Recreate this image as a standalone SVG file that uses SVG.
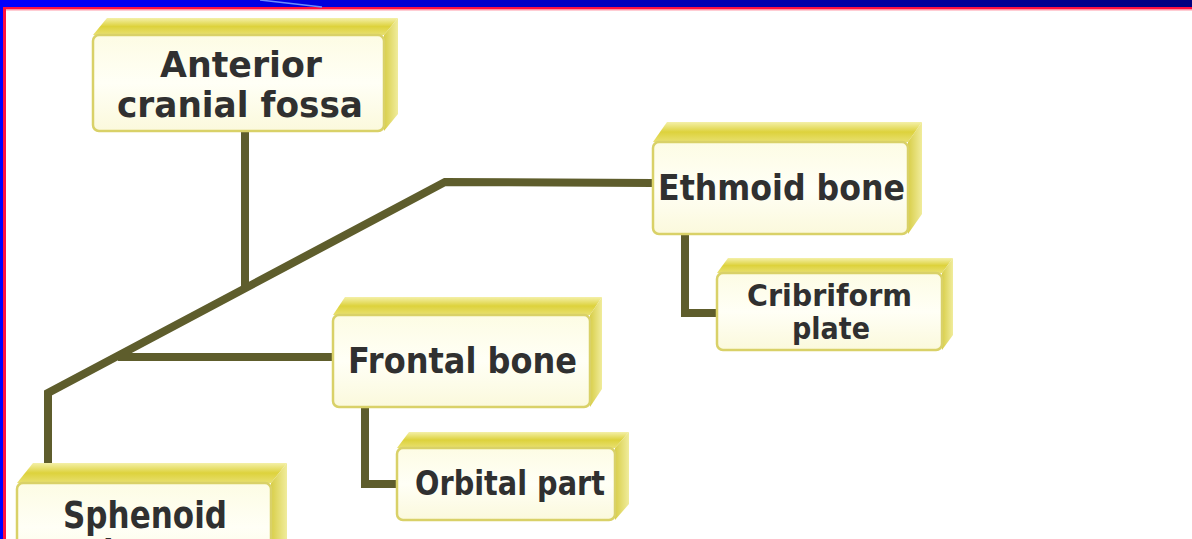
<svg xmlns="http://www.w3.org/2000/svg" width="1192" height="539" viewBox="0 0 1192 539">
<defs>
<linearGradient id="bar" x1="0" y1="0" x2="1" y2="0">
<stop offset="0" stop-color="#0000ff"/>
<stop offset="1" stop-color="#000080"/>
</linearGradient>
<linearGradient id="topf" x1="0" y1="0" x2="0" y2="1">
<stop offset="0" stop-color="#f4f0a8"/>
<stop offset="0.5" stop-color="#ddd23c"/>
<stop offset="1" stop-color="#e8e070"/>
</linearGradient>
<linearGradient id="sidef" x1="0" y1="0" x2="1" y2="0">
<stop offset="0" stop-color="#d8ce48"/>
<stop offset="1" stop-color="#f0ec9c"/>
</linearGradient>
<linearGradient id="front" x1="0" y1="0" x2="0" y2="1">
<stop offset="0" stop-color="#fdfce4"/>
<stop offset="0.5" stop-color="#fffff6"/>
<stop offset="1" stop-color="#fbf9dc"/>
</linearGradient>
<style>
.top{fill:url(#topf);}
.side{fill:url(#sidef);}
.face{fill:url(#front);stroke:#d9d168;stroke-width:2.5;}
.lbl{font-family:"DejaVu Sans","Verdana",sans-serif;font-weight:bold;fill:#303030;}
.con{fill:none;stroke:#5e5d2c;stroke-width:8;stroke-linejoin:miter;stroke-linecap:butt;}
</style>
</defs>
<rect width="1192" height="539" fill="#ffffff"/>
<g id="frame">
<rect x="0" y="0" width="1192" height="7" fill="url(#bar)"/>
<rect x="0" y="0" width="3" height="539" fill="#0000ff"/>
<rect x="3" y="7" width="1189" height="2.5" fill="#ff1040"/>
<rect x="6" y="9.5" width="1186" height="1" fill="#ff9aa8"/>
<rect x="3" y="7" width="3" height="532" fill="#ff1040"/>
<line x1="260" y1="0" x2="322" y2="7" stroke="#6a8cff" stroke-width="1.5"/>
</g>
<g id="connectors">
<polyline class="con" points="653,183 445,182 48,393 48,472"/>
<line class="con" x1="245" y1="132" x2="245" y2="288"/>
<line class="con" x1="118" y1="357" x2="334" y2="357"/>
<polyline class="con" points="365,407 365,484 398,484"/>
<polyline class="con" points="685,233 685,313 718,313"/>
</g>
<g id="anterior">
<polygon class="top" points="93,35 107,18 398,18 384,35"/>
<polygon class="side" points="384,35 398,18 398,114 384,131"/>
<rect class="face" x="93" y="35" width="291" height="96" rx="6"/>
<text class="lbl" x="160" y="77" font-size="35" textLength="162" lengthAdjust="spacingAndGlyphs">Anterior</text>
<text class="lbl" x="117" y="117" font-size="35" textLength="246" lengthAdjust="spacingAndGlyphs">cranial fossa</text>
</g>
<g id="ethmoid">
<polygon class="top" points="653,142 667,122 922,122 908,142"/>
<polygon class="side" points="908,142 922,122 922,214 908,234"/>
<rect class="face" x="653" y="142" width="255" height="92" rx="6"/>
<text class="lbl" x="658" y="200" font-size="35" textLength="247" lengthAdjust="spacingAndGlyphs">Ethmoid bone</text>
</g>
<g id="cribriform">
<polygon class="top" points="717,273 728,258 953,258 942,273"/>
<polygon class="side" points="942,273 953,258 953,335 942,350"/>
<rect class="face" x="717" y="273" width="225" height="77" rx="6"/>
<text class="lbl" x="747" y="306" font-size="31" textLength="165" lengthAdjust="spacingAndGlyphs">Cribriform</text>
<text class="lbl" x="792" y="339" font-size="31" textLength="78" lengthAdjust="spacingAndGlyphs">plate</text>
</g>
<g id="frontal">
<polygon class="top" points="333,315 345,297 602,297 590,315"/>
<polygon class="side" points="590,315 602,297 602,389 590,407"/>
<rect class="face" x="333" y="315" width="257" height="92" rx="6"/>
<text class="lbl" x="348" y="373" font-size="36" textLength="229" lengthAdjust="spacingAndGlyphs">Frontal bone</text>
</g>
<g id="orbital">
<polygon class="top" points="397,448 409,432 629,432 615,448"/>
<polygon class="side" points="615,448 629,432 629,504 615,520"/>
<rect class="face" x="397" y="448" width="218" height="72" rx="6"/>
<text class="lbl" x="415" y="495" font-size="33" textLength="190" lengthAdjust="spacingAndGlyphs">Orbital part</text>
</g>
<g id="sphenoid">
<polygon class="top" points="17,483 33,463 287,463 271,483"/>
<polygon class="side" points="271,483 287,463 287,560 271,580"/>
<rect class="face" x="17" y="483" width="254" height="90" rx="6"/>
<text class="lbl" x="63" y="528" font-size="38" textLength="164" lengthAdjust="spacingAndGlyphs">Sphenoid</text>
<text class="lbl" x="103" y="566" font-size="38" textLength="86" lengthAdjust="spacingAndGlyphs">bone</text>
</g>
</svg>
